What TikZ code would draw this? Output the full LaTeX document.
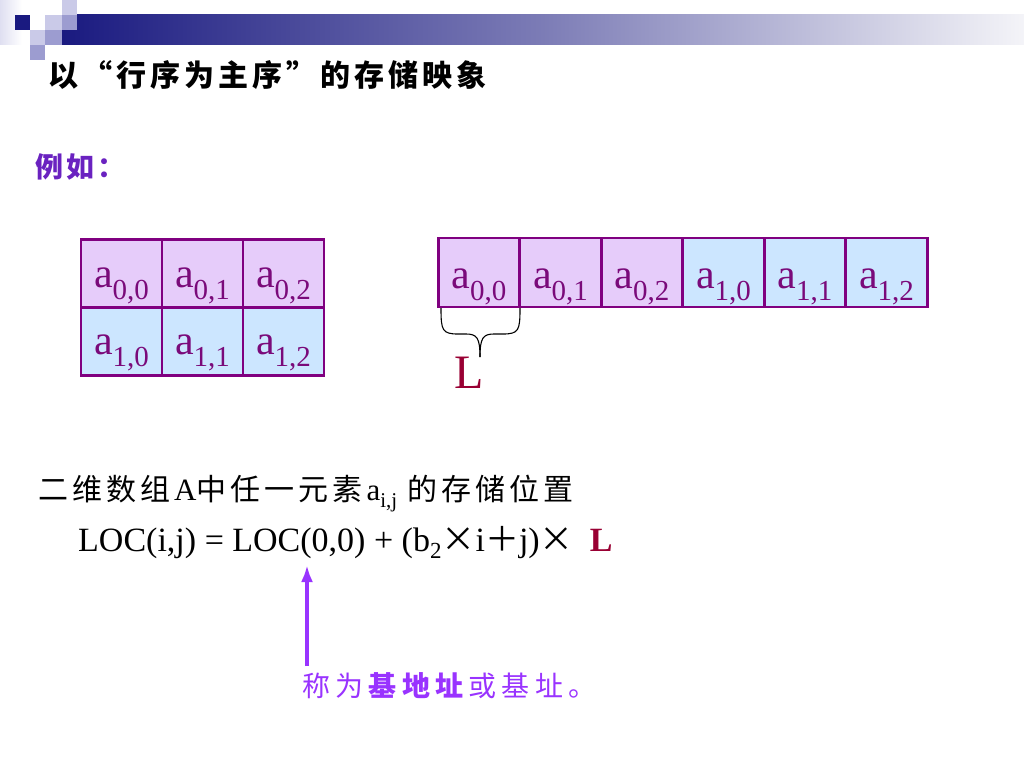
\documentclass[tikz,border=0pt]{standalone}
\usepackage{fontspec}
\setmainfont{Liberation Serif}
\newfontfamily\cjk{Noto Sans CJK SC}
\usetikzlibrary{arrows.meta}
\definecolor{navy}{HTML}{1A1A80}
\definecolor{sqlight}{HTML}{CACAE8}
\definecolor{sqmed}{HTML}{9C9CD0}
\definecolor{barend}{HTML}{F4F4F8}
\definecolor{rowpink}{HTML}{E6CCFA}
\definecolor{rowblue}{HTML}{CCE6FF}
\definecolor{cellborder}{HTML}{800080}
\definecolor{celltext}{HTML}{7A0A7A}
\definecolor{exviolet}{HTML}{6A22C0}
\definecolor{lred}{HTML}{990033}
\definecolor{arrviolet}{HTML}{9933FF}
\newcommand\spacedchars[2]{\def\spcamount{#1}\spacedloop#2\relax}
\def\spacedloop#1{\ifx\relax#1\else#1\hspace{\spcamount}\expandafter\spacedloop\fi}
\newcommand\elem[1]{{\fontsize{42}{42}\selectfont a}\raisebox{-12pt}{\fontsize{29}{29}\selectfont #1}}
\newcommand\cjkline[1]{{\cjk\fontsize{30}{30}\selectfont\spacedchars{4pt}{#1}}}
\tikzset{
  cellL/.style={draw=cellborder, line width=2.6pt, minimum width=81pt, minimum height=68pt, inner sep=0pt, outer sep=0pt},
  cellR/.style={draw=cellborder, line width=2.6pt, minimum width=81.5pt, minimum height=69pt, inner sep=0pt, outer sep=0pt},
  lbl/.style={anchor=base, text=celltext, inner sep=0pt},
  txt/.style={anchor=base west, inner sep=0pt},
  arr/.style={-{Latex[length=17pt,width=12pt]}, line width=3.5pt, draw=arrviolet},
  bracepath/.style={draw=black, line width=1.1pt}
}
\begin{document}
\begin{tikzpicture}[x=1pt,y=-1pt]
\useasboundingbox (0,0) rectangle (1024,768);
% header decoration
\shade[left color=sqlight!60, right color=white] (0,0) rectangle (22,45);
\shade[left color=navy, right color=barend, middle color=navy!55!barend] (62,15) rectangle (1024,45);
\fill[sqlight] (62,0) rectangle (77,15);
\fill[navy] (15,15) rectangle (30,30);
\fill[sqlight] (45,15) rectangle (62,30);
\fill[sqmed] (62,15) rectangle (77,30);
\fill[sqlight] (30,30) rectangle (45,45);
\fill[sqmed] (45,30) rectangle (62,45);
\fill[sqmed] (30,45) rectangle (45,60);
% title
\node[txt] (title) at (48,86) {\cjk\bfseries\fontsize{30}{30}\selectfont\spacedchars{4pt}{以“行序为主序”的存储映象}};
\node[txt, text=exviolet] (example) at (35,177) {\cjk\bfseries\fontsize{28}{28}\selectfont\spacedchars{3pt}{例如：}};
% left grid
\node[cellL, fill=rowpink] (g00) at (121.5,273.5) {};
\node[cellL, fill=rowpink] (g01) at (202.5,273.5) {};
\node[cellL, fill=rowpink] (g02) at (283.5,273.5) {};
\node[cellL, fill=rowblue] (g10) at (121.5,341.5) {};
\node[cellL, fill=rowblue] (g11) at (202.5,341.5) {};
\node[cellL, fill=rowblue] (g12) at (283.5,341.5) {};
\node[lbl] (tg00) at (121.5,287) {\elem{0,0}};
\node[lbl] (tg01) at (202.5,287) {\elem{0,1}};
\node[lbl] (tg02) at (283.5,287) {\elem{0,2}};
\node[lbl] (tg10) at (121.5,354) {\elem{1,0}};
\node[lbl] (tg11) at (202.5,354) {\elem{1,1}};
\node[lbl] (tg12) at (283.5,354) {\elem{1,2}};
% right strip
\node[cellR, fill=rowpink] (s0) at (479,272.5) {};
\node[cellR, fill=rowpink] (s1) at (560.5,272.5) {};
\node[cellR, fill=rowpink] (s2) at (642,272.5) {};
\node[cellR, fill=rowblue] (s3) at (723.5,272.5) {};
\node[cellR, fill=rowblue] (s4) at (805,272.5) {};
\node[cellR, fill=rowblue] (s5) at (886.5,272.5) {};
\node[lbl] (ts0) at (479,288) {\elem{0,0}};
\node[lbl] (ts1) at (560.5,288) {\elem{0,1}};
\node[lbl] (ts2) at (642,288) {\elem{0,2}};
\node[lbl] (ts3) at (723.5,288) {\elem{1,0}};
\node[lbl] (ts4) at (805,288) {\elem{1,1}};
\node[lbl] (ts5) at (886.5,288) {\elem{1,2}};
% brace
\coordinate (bl) at (441,308);
\coordinate (br) at (520,308);
\coordinate (btip) at (480,357);
\draw[bracepath] (bl) .. controls (441,330) and (442,334) .. (458,334) -- (466,334) .. controls (477,334) and (480,338) .. (btip);
\draw[bracepath] (br) .. controls (520,330) and (519,334) .. (503,334) -- (494,334) .. controls (483,334) and (480,338) .. (btip);
\node[anchor=base, text=lred, inner sep=0pt, font=\fontsize{48}{48}\selectfont] (Lsize) at (469,388) {L};
% text lines
\node[txt] (line1) at (38,500) {\fontsize{31}{31}\selectfont\cjkline{二维数组}A\cjkline{中任一元素}a\raisebox{-7pt}{\fontsize{21}{21}\selectfont i,j}\hspace{10pt}\cjkline{的存储位置}};
\node[txt] (formula) at (78,551) {\fontsize{34}{34}\selectfont LOC(i,j) = LOC(0,0) + (b\raisebox{-7pt}{\fontsize{23}{23}\selectfont 2}{\cjk ×}i{\cjk ＋}j){\cjk ×}\hspace{16pt}{\color{lred}\bfseries L}};
% arrow
\coordinate (arrtip) at (307,565);
\coordinate (arrfoot) at (307,666);
\draw[arr] (arrfoot) -- (arrtip);
\node[txt, text=arrviolet] (basenote) at (302,696) {\cjk\fontsize{28}{28}\selectfont\spacedchars{5.3pt}{称为}{\bfseries\spacedchars{5.3pt}{基地址}}\spacedchars{5.3pt}{或基址。}};
\end{tikzpicture}
\end{document}
